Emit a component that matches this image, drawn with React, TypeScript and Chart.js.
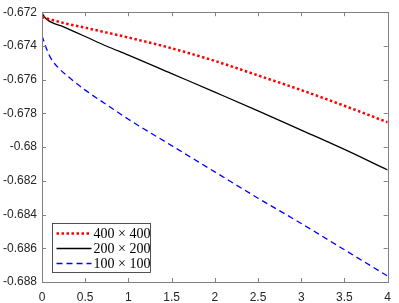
import React, { useEffect, useRef } from "react";
import { Chart, registerables } from "chart.js";

Chart.register(...registerables);

// ---- data ----
const xRed = [0, 0.25, 0.5, 0.75, 1, 1.5, 2, 2.5, 3, 3.5, 4];
const yRed = [-0.67229, -0.67264, -0.67292, -0.67321, -0.6735, -0.67414, -0.67489, -0.67575, -0.67662, -0.67755, -0.67853];

const xBlack = [0, 0.05, 0.25, 0.5, 0.75, 1, 1.5, 2, 2.5, 3, 3.5, 4];
const yBlack = [-0.67206, -0.6724, -0.67287, -0.67344, -0.67402, -0.67454, -0.67564, -0.67674, -0.67785, -0.67899, -0.68014, -0.68136];

const xBlue = [0, 0.05, 0.1, 0.2, 0.3, 0.5, 0.75, 1, 1.5, 2, 2.5, 3, 3.5, 4];
const yBlue = [-0.67339, -0.67414, -0.67471, -0.67535, -0.67581, -0.67662, -0.67749, -0.67835, -0.67991, -0.68147, -0.68303, -0.68453, -0.68609, -0.68765];

const seriesLabels = ["400 \u00d7 400", "200 \u00d7 200", "100 \u00d7 100"];
const xTicks = [0, 0.5, 1, 1.5, 2, 2.5, 3, 3.5, 4];
const yTicks = [-0.688, -0.686, -0.684, -0.682, -0.68, -0.678, -0.676, -0.674, -0.672];

const zip = (xs: number[], ys: number[]) => xs.map((x, i) => ({ x, y: ys[i] }));

const AXIS_COLOR = "#808080";
const TEXT_COLOR = "#262626";

const boxPlugin = {
  id: "matlabBox",
  afterDraw(chart: any) {
    const { ctx, chartArea: a, scales } = chart;
    ctx.save();
    ctx.strokeStyle = AXIS_COLOR;
    ctx.lineWidth = 1;
    const tl = 4;
    ctx.beginPath();
    xTicks.forEach((v) => {
      const px = Math.round(scales.x.getPixelForValue(v)) + 0.5;
      ctx.moveTo(px, a.bottom);
      ctx.lineTo(px, a.bottom - tl);
      ctx.moveTo(px, a.top);
      ctx.lineTo(px, a.top + tl);
    });
    yTicks.forEach((v) => {
      const py = Math.round(scales.y.getPixelForValue(v)) + 0.5;
      ctx.moveTo(a.left, py);
      ctx.lineTo(a.left + tl, py);
      ctx.moveTo(a.right, py);
      ctx.lineTo(a.right - tl, py);
    });
    ctx.stroke();
    ctx.strokeRect(Math.round(a.left) + 0.5, Math.round(a.top) + 0.5, Math.round(a.right - a.left), Math.round(a.bottom - a.top));

    // legend
    const bx = Math.round(a.left) + 10.5;
    const bw = 98;
    const bh = 49;
    const by = Math.round(a.bottom) - 9.5 - bh;
    ctx.fillStyle = "#ffffff";
    ctx.fillRect(bx, by, bw, bh);
    ctx.strokeStyle = "#262626";
    ctx.lineWidth = 0.8;
    ctx.strokeRect(bx, by, bw, bh);
    ctx.font = "14px 'Liberation Serif'";
    ctx.textBaseline = "middle";
    ctx.textAlign = "left";
    chart.data.datasets.forEach((ds: any, i: number) => {
      const ry = by + 10 + i * 15;
      ctx.beginPath();
      ctx.strokeStyle = ds.borderColor;
      ctx.lineWidth = ds.borderWidth;
      ctx.setLineDash(ds.borderDash || []);
      ctx.moveTo(bx + 4, ry);
      ctx.lineTo(bx + 39, ry);
      ctx.stroke();
      ctx.setLineDash([]);
      ctx.fillStyle = "#000000";
      ctx.fillText(ds.label, bx + 41, ry + 1);
    });
    ctx.restore();
  },
};

export default function App() {
  const ref = useRef<HTMLCanvasElement | null>(null);
  useEffect(() => {
    if (!ref.current) return;
    const chart = new Chart(ref.current, {
      type: "line",
      data: {
        datasets: [
          {
            label: seriesLabels[0],
            data: zip(xRed, yRed),
            borderColor: "#ff0000",
            borderWidth: 2.5,
            borderDash: [2.5, 2.5],
            pointRadius: 0,
            cubicInterpolationMode: "monotone",
            fill: false,
          },
          {
            label: seriesLabels[1],
            data: zip(xBlack, yBlack),
            borderColor: "#000000",
            borderWidth: 1.3,
            pointRadius: 0,
            cubicInterpolationMode: "monotone",
            fill: false,
          },
          {
            label: seriesLabels[2],
            data: zip(xBlue, yBlue),
            borderColor: "#0000ff",
            borderWidth: 1.3,
            borderDash: [6, 4],
            pointRadius: 0,
            cubicInterpolationMode: "monotone",
            fill: false,
          },
        ],
      },
      options: {
        animation: false,
        responsive: false,
        layout: { padding: { top: 5, right: 3, left: 0, bottom: 0 } },
        plugins: { legend: { display: false }, tooltip: { enabled: false } },
        scales: {
          x: {
            type: "linear",
            min: 0,
            max: 4,
            grid: { display: false, drawTicks: false },
            border: { display: false },
            afterBuildTicks: (s: any) => {
              s.ticks = xTicks.map((v) => ({ value: v }));
            },
            afterFit: (s: any) => {
              s.height = 21;
            },
            ticks: {
              color: TEXT_COLOR,
              font: { family: "'Liberation Sans', Arial, sans-serif", size: 12 },
              padding: 8,
              maxRotation: 0,
              autoSkip: false,
              callback: (v: any) => String(parseFloat(Number(v).toFixed(3))),
            },
          },
          y: {
            type: "linear",
            min: -0.688,
            max: -0.672,
            grid: { display: false, drawTicks: false },
            border: { display: false },
            afterBuildTicks: (s: any) => {
              s.ticks = yTicks.map((v) => ({ value: v }));
            },
            afterFit: (s: any) => {
              s.width = 42;
            },
            ticks: {
              color: TEXT_COLOR,
              font: { family: "'Liberation Sans', Arial, sans-serif", size: 12 },
              padding: 5,
              autoSkip: false,
              callback: (v: any) => String(parseFloat(Number(v).toFixed(3))),
            },
          },
        },
      },
      plugins: [boxPlugin],
    });
    return () => chart.destroy();
  }, []);
  return (
    <div style={{ position: "absolute", left: 0, top: 0, width: 399, height: 303, background: "#fff" }}>
      <canvas ref={ref} width={399} height={303} style={{ display: "block" }} />
    </div>
  );
}
